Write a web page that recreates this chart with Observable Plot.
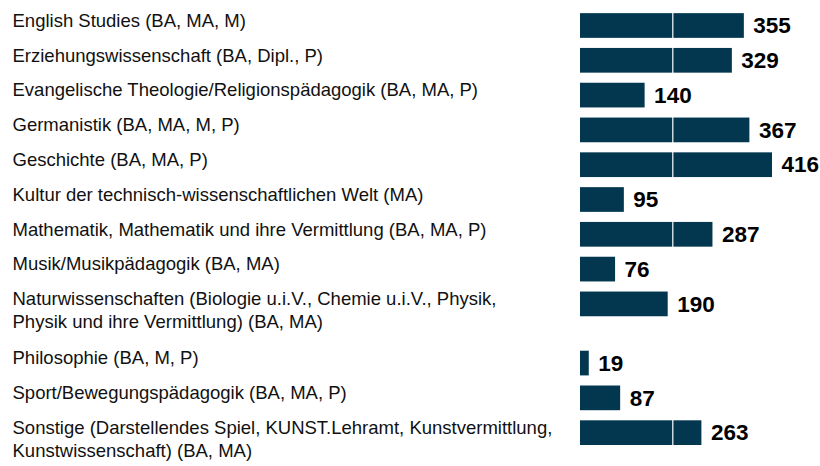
<!DOCTYPE html>
<html>
<head>
<meta charset="utf-8">
<script src="https://cdn.jsdelivr.net/npm/d3@7"></script>
<script src="https://cdn.jsdelivr.net/npm/@observablehq/plot@0.6"></script>
<style>
  html, body { margin: 0; padding: 0; background: #fff; }
  #chart svg { display: block; }
</style>
</head>
<body>
<div id="chart"></div>
<script>
const categories = [
  "English Studies (BA, MA, M)",
  "Erziehungswissenschaft (BA, Dipl., P)",
  "Evangelische Theologie/Religionspädagogik (BA, MA, P)",
  "Germanistik (BA, MA, M, P)",
  "Geschichte (BA, MA, P)",
  "Kultur der technisch-wissenschaftlichen Welt (MA)",
  "Mathematik, Mathematik und ihre Vermittlung (BA, MA, P)",
  "Musik/Musikpädagogik (BA, MA)",
  "Naturwissenschaften (Biologie u.i.V., Chemie u.i.V., Physik,\nPhysik und ihre Vermittlung) (BA, MA)",
  "Philosophie (BA, M, P)",
  "Sport/Bewegungspädagogik (BA, MA, P)",
  "Sonstige (Darstellendes Spiel, KUNST.Lehramt, Kunstvermittlung,\nKunstwissenschaft) (BA, MA)"
];
const values = [355, 329, 140, 367, 416, 95, 287, 76, 190, 19, 87, 263];
const gridTicks = [200];

// row positions derived from number of text lines per label
let acc = 0;
const rows = categories.map((label, i) => {
  const lines = label.split("\n").length;
  const r = {label, value: values[i], pos: acc};
  acc += 1 + 0.7 * (lines - 1);
  return r;
});

const unit = 34.8, firstCenter = 25.5, H = 466;
const chart = Plot.plot({
  width: 820,
  height: H,
  marginLeft: 580,
  marginRight: 0,
  marginTop: 0,
  marginBottom: 0,
  style: {fontFamily: "Arial, 'Liberation Sans', Helvetica, sans-serif", background: "#fff"},
  x: {domain: [0, 520], axis: null},
  y: {type: "linear", domain: [-firstCenter / unit, (H - firstCenter) / unit], reverse: true, axis: null},
  marks: [
    Plot.rectX(rows, {x1: 0, x2: "value", y1: d => d.pos - 0.355, y2: d => d.pos + 0.355, fill: "#02374f"}),
    Plot.ruleX(gridTicks, {stroke: "#ffffff", strokeWidth: 1.2}),
    Plot.text(rows, {
      x: "value", y: "pos", text: d => String(d.value),
      textAnchor: "start", dx: 9, fontSize: 22.5, fontWeight: "bold", fill: "#000", lineAnchor: "middle"
    }),
    Plot.text(rows, {
      y: "pos", text: "label", frameAnchor: "left", dx: -568, dy: -15.5,
      textAnchor: "start", lineAnchor: "top", fontSize: 18.5, lineHeight: 1.24, fill: "#111"
    })
  ]
});
document.getElementById("chart").appendChild(chart);
</script>
</body>
</html>
